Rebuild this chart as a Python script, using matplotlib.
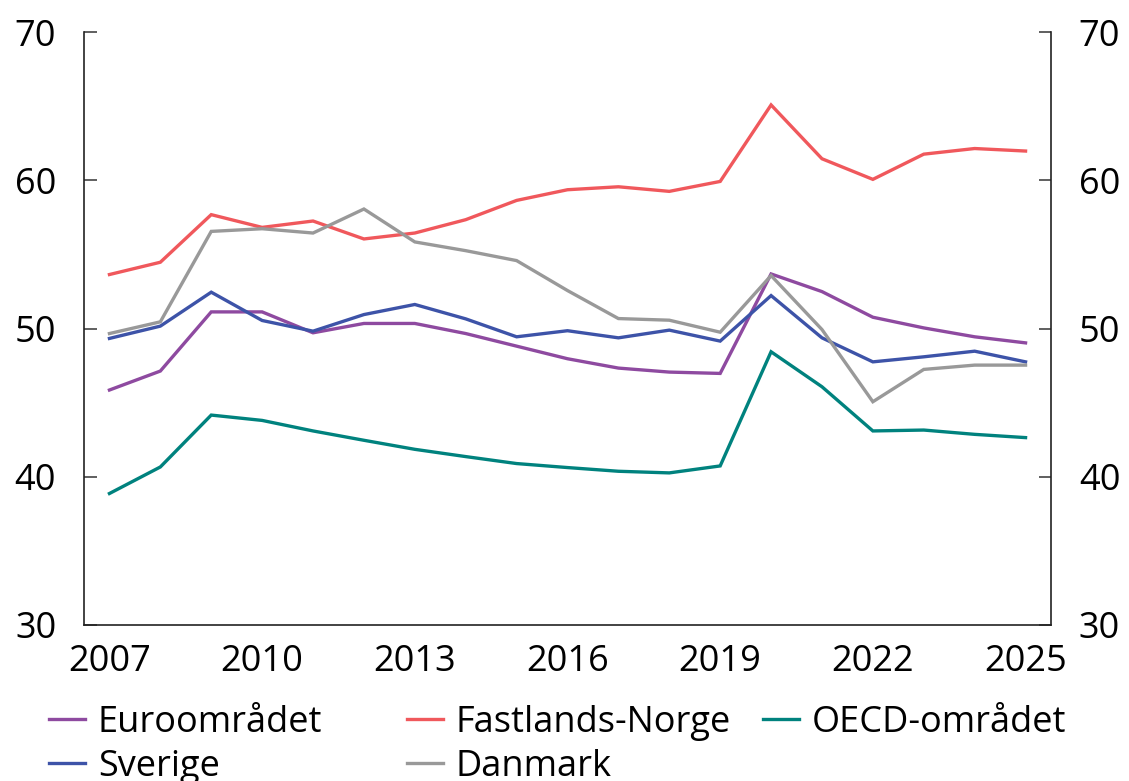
import matplotlib

matplotlib.use("Agg")

import matplotlib.pyplot as plt
import numpy as np

YEARS = np.arange(2007, 2026)

EUROOMRADET = [45.85, 47.13, 51.12, 51.12, 49.71, 50.34, 50.34, 49.66, 48.81, 47.96,
               47.33, 47.06, 46.97, 53.68, 52.49, 50.76, 50.04, 49.44, 49.03]
FASTLANDS_NORGE = [53.64, 54.47, 57.68, 56.82, 57.25, 56.04, 56.44, 57.34, 58.64, 59.36,
                   59.56, 59.25, 59.92, 65.08, 61.45, 60.06, 61.76, 62.14, 61.97]
OECD = [38.87, 40.66, 44.16, 43.80, 43.09, 42.46, 41.85, 41.36, 40.89, 40.62,
        40.37, 40.26, 40.73, 48.43, 46.07, 43.09, 43.15, 42.86, 42.64]
SVERIGE = [49.33, 50.16, 52.45, 50.54, 49.82, 50.94, 51.62, 50.65, 49.44, 49.85,
           49.37, 49.89, 49.15, 52.22, 49.37, 47.75, 48.09, 48.47, 47.75]
DANMARK = [49.66, 50.45, 56.55, 56.73, 56.44, 58.06, 55.84, 55.25, 54.58, 52.56,
           50.67, 50.56, 49.75, 53.57, 49.93, 45.06, 47.24, 47.53, 47.53]

SERIES = [
    ("Euroområdet", EUROOMRADET, "#8E4AA0"),
    ("Fastlands-Norge", FASTLANDS_NORGE, "#F0585C"),
    ("OECD-området", OECD, "#00827E"),
    ("Sverige", SVERIGE, "#3D53A8"),
    ("Danmark", DANMARK, "#999999"),
]

X_TICKS = [2007, 2010, 2013, 2016, 2019, 2022, 2025]
Y_TICKS = [30, 40, 50, 60, 70]

plt.rcParams.update(
    {
        "font.family": ["Open Sans", "DejaVu Sans"],
        "font.size": 26,
        "axes.edgecolor": "#222222",
        "axes.linewidth": 1.2,
    }
)

fig = plt.figure(figsize=(11.29, 7.81), dpi=100)
ax = fig.add_axes([84 / 1129, 1 - 625 / 781, (1051 - 84) / 1129, (625 - 32) / 781])

lines = {}
for name, values, color in SERIES:
    (line,) = ax.plot(YEARS, values, color=color, linewidth=2.4, label=name,
                      solid_joinstyle="miter")
    lines[name] = line

ax.set_xlim(2006.5, 2025.5)
ax.set_ylim(30, 70)
ax.set_xticks(X_TICKS)
ax.set_yticks(Y_TICKS)
ax.spines["top"].set_visible(False)
ax.tick_params(axis="x", length=0, pad=14, labelsize=26)
ax.tick_params(axis="y", direction="in", length=9, width=1.2, color="#444444",
               left=True, right=True, labelleft=True, labelright=True,
               pad=20, labelsize=26)

# legend laid out in three separate columns to match the original spacing
columns = [
    (["Euroområdet", "Sverige"], 49),
    (["Fastlands-Norge", "Danmark"], 407),
    (["OECD-området"], 763),
]
for names, x_px in columns:
    fig.legend(
        [lines[n] for n in names],
        names,
        loc="upper left",
        bbox_to_anchor=(x_px / 1129, 1 - 705 / 781),
        frameon=False,
        borderpad=0,
        borderaxespad=0,
        handlelength=1.0,
        handletextpad=0.35,
        labelspacing=0.22,
        fontsize=26,
    )

fig.savefig("out.png", dpi=100, facecolor="white")
